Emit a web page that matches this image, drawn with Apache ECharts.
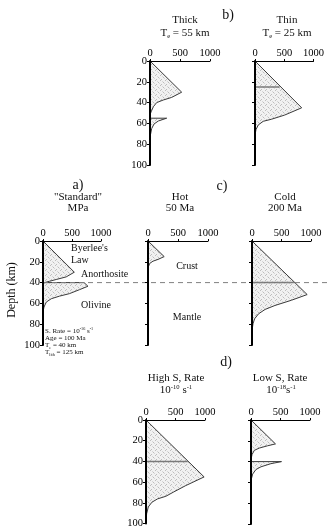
<!DOCTYPE html>
<html>
<head>
<meta charset="utf-8">
<script src="https://cdn.jsdelivr.net/npm/echarts@6/dist/echarts.min.js"></script>
<style>
  html, body { margin: 0; padding: 0; background: #fff; }
  #chart { width: 327px; height: 529px; }
</style>
</head>
<body>
<div id="chart"></div>
<script>
// axes: stress (MPa) on top, depth (km) downwards
var stressTicks = [0, 500, 1000]
var depthTicks = [0, 20, 40, 60, 80, 100]
var mohoDepth = 40

// strength envelopes, [stress MPa, depth km]
// b) thick, Te = 55 km
var thickCrust = [[0, 0], [528, 30], [361, 35], [222, 37.5], [111, 40], [56, 44], [17, 49], [0, 52]]
var thickMantle = [[0, 55], [278, 55], [139, 57.7], [67, 60.6], [28, 65], [11, 70], [0, 73]]
// b) thin, Te = 25 km
var thinProfile = [[0, 0], [798, 45], [506, 52], [281, 56], [140, 58], [56, 61.5], [17, 66], [0, 71]]
var thinMoho = [[0, 25], [421, 25]]
// a) standard
var stdCrust = [[0, 0], [540, 30], [400, 34.5], [229, 37], [114, 38.7], [29, 40], [0, 40]]
var stdMantle = [[0, 40], [708, 40], [775, 43.5], [629, 46.8], [457, 50.6], [286, 53], [143, 55.5], [57, 58.7], [17, 63.5], [0, 68]]
// c) hot 50 Ma
var hotCrust = [[0, 0], [270, 15], [167, 17.7], [83, 19.4], [28, 21.6], [5, 25], [0, 28]]
// c) cold 200 Ma
var coldProfile = [[0, 0], [935, 51.5], [667, 57], [389, 62], [222, 65.8], [111, 70], [44, 74.8], [17, 79.6], [0, 86]]
var coldMoho = [[0, 40], [710, 40]]
// d) high strain rate
var highProfile = [[0, 0], [985, 55], [669, 63.5], [461, 69.8], [337, 73.7], [197, 76.2], [101, 79.4], [39, 84], [11, 90.5], [0, 97]]
var highMoho = [[0, 40], [708, 40]]
// d) low strain rate
var lowCrust = [[0, 0], [415, 23], [281, 24.8], [140, 27], [56, 29.2], [17, 33.3], [0, 38]]
var lowMantle = [[0, 40], [517, 40], [337, 42], [169, 45], [84, 47.6], [28, 52], [5, 57], [0, 60]]

// panel layout
var panels = [
  { left: 150, top: 61, width: 60, height: 104, labels: true, fills: [thickCrust, thickMantle], moho: null },
  { left: 255, top: 61, width: 59, height: 104, labels: false, fills: [thinProfile], moho: thinMoho },
  { left: 43, top: 241, width: 58, height: 104, labels: true, fills: [stdCrust, stdMantle], moho: null },
  { left: 148, top: 241, width: 60, height: 104, labels: false, fills: [hotCrust], moho: null },
  { left: 252, top: 241, width: 59, height: 104, labels: false, fills: [coldProfile], moho: coldMoho },
  { left: 146, top: 420, width: 59, height: 104, labels: true, fills: [highProfile], moho: highMoho },
  { left: 251, top: 420, width: 59, height: 104, labels: false, fills: [lowCrust, lowMantle], moho: null }
]

// fine stipple pattern for the shaded areas
var pat = document.createElement('canvas')
pat.width = 5
pat.height = 5
var pctx = pat.getContext('2d')
pctx.fillStyle = '#f1f1f1'
pctx.fillRect(0, 0, 5, 5)
pctx.fillStyle = '#bdbdbd'
pctx.fillRect(0, 0, 1, 1)
pctx.fillRect(3, 2, 1, 1)
pctx.fillRect(1, 4, 1, 1)
pctx.fillStyle = '#d6d6d6'
pctx.fillRect(2, 1, 1, 1)
pctx.fillRect(4, 3, 1, 1)
var stipple = { image: pat, repeat: 'repeat' }

var serif = 'Liberation Serif'
var grids = []
var xAxes = []
var yAxes = []
var series = []

function areaSeries (gi, pts) {
  return {
    type: 'custom',
    xAxisIndex: gi,
    yAxisIndex: gi,
    data: pts,
    silent: true,
    z: 1,
    renderItem: function (params, api) {
      if (params.dataIndex !== 0) return
      var points = pts.map(function (p) { return api.coord(p) })
      points.push(api.coord([0, pts[pts.length - 1][1]]))
      return { type: 'polygon', shape: { points: points }, style: { fill: stipple } }
    }
  }
}

function lineSeries (gi, pts, color, width) {
  return {
    type: 'line',
    xAxisIndex: gi,
    yAxisIndex: gi,
    data: pts,
    symbol: 'none',
    silent: true,
    z: 3,
    lineStyle: { color: color, width: width }
  }
}

panels.forEach(function (p, i) {
  grids.push({ left: p.left, top: p.top, width: p.width, height: p.height })
  xAxes.push({
    type: 'value',
    gridIndex: i,
    position: 'top',
    min: stressTicks[0],
    max: stressTicks[stressTicks.length - 1],
    interval: stressTicks[1] - stressTicks[0],
    z: 5,
    axisLine: { show: true, onZero: false, lineStyle: { color: '#000', width: 1 } },
    axisTick: { show: true, length: 2, lineStyle: { color: '#000' } },
    axisLabel: { color: '#000', fontFamily: serif, fontSize: 10.5, margin: 2, formatter: function (v) { return String(v) } },
    splitLine: { show: false }
  })
  yAxes.push({
    type: 'value',
    gridIndex: i,
    inverse: true,
    min: depthTicks[0],
    max: depthTicks[depthTicks.length - 1],
    interval: depthTicks[1] - depthTicks[0],
    z: 5,
    axisLine: { show: true, onZero: false, lineStyle: { color: '#000', width: 2 } },
    axisTick: { show: true, length: 3, lineStyle: { color: '#000' } },
    axisLabel: { show: p.labels, color: '#000', fontFamily: serif, fontSize: 10.5, margin: 3 },
    splitLine: { show: false }
  })
  p.fills.forEach(function (pts) {
    series.push(areaSeries(i, pts))
    series.push(lineSeries(i, pts, '#3a3a3a', 1))
  })
  if (p.moho) series.push(lineSeries(i, p.moho, '#7a7a7a', 1.5))
})

// hidden grid for the dashed Moho line across panels a and c
var dashIdx = panels.length
grids.push({ left: 43, top: 241, width: 284, height: 104 })
xAxes.push({ type: 'value', gridIndex: dashIdx, min: 0, max: 1, show: false })
yAxes.push({ type: 'value', gridIndex: dashIdx, inverse: true, min: depthTicks[0], max: depthTicks[depthTicks.length - 1], show: false })
series.push({
  type: 'line',
  xAxisIndex: dashIdx,
  yAxisIndex: dashIdx,
  data: [[0, mohoDepth], [1, mohoDepth]],
  symbol: 'none',
  silent: true,
  z: 4,
  lineStyle: { color: '#808080', width: 1, type: [5, 4] }
})

function txt (x, y, text, size, align, extra) {
  var el = {
    type: 'text',
    x: x,
    y: y,
    z: 10,
    style: {
      text: text,
      fontFamily: serif,
      fontSize: size,
      fill: '#111',
      align: align || 'center',
      verticalAlign: 'middle',
      lineHeight: size + 2,
      rich: {
        sub: { fontSize: size * 0.6, fontFamily: serif, verticalAlign: 'bottom', lineHeight: size * 0.7, fill: '#111' },
        sup: { fontSize: size * 0.6, fontFamily: serif, verticalAlign: 'top', lineHeight: size * 0.7, fill: '#111' },
        base: { fontSize: size, fontFamily: serif, lineHeight: size + 2, fill: '#111' }
      }
    }
  }
  if (extra) Object.assign(el, extra)
  return el
}

var graphics = [
  txt(228, 15, 'b)', 14),
  txt(185, 20, 'Thick', 11),
  txt(185, 33, '{base|T}{sub|e}{base| = 55 km}', 11),
  txt(287, 20, 'Thin', 11),
  txt(287, 33, '{base|T}{sub|e}{base| = 25 km}', 11),
  txt(78, 185, 'a)', 14),
  txt(78, 197, '"Standard"', 11),
  txt(78, 208, 'MPa', 11),
  txt(222, 186, 'c)', 14),
  txt(180, 197, 'Hot', 11),
  txt(180, 208, '50 Ma', 11),
  txt(285, 197, 'Cold', 11),
  txt(285, 208, '200 Ma', 11),
  txt(226, 362, 'd)', 14),
  txt(176, 378, 'High S, Rate', 11),
  txt(176, 390, '{base|10}{sup|-10}{base| s}{sup|-1}', 11),
  txt(280, 378, 'Low S, Rate', 11),
  txt(281, 390, '{base|10}{sup|-18}{base|s}{sup|-1}', 11),
  txt(71, 248, 'Byerlee\'s', 10, 'left'),
  txt(71, 260, 'Law', 10, 'left'),
  txt(81, 274, 'Anorthosite', 10, 'left'),
  txt(81, 305, 'Olivine', 10, 'left'),
  txt(187, 266, 'Crust', 10),
  txt(187, 317, 'Mantle', 10),
  txt(45, 331, '{base|S. Rate = 10}{sup|-16}{base| s}{sup|-1}', 7, 'left'),
  txt(45, 338, 'Age = 100 Ma', 7, 'left'),
  txt(45, 345, '{base|T}{sub|e}{base| = 40 km}', 7, 'left'),
  txt(45, 352, '{base|T}{sub|lith}{base| = 125 km}', 7, 'left'),
  txt(12, 290, 'Depth (km)', 12, 'center', { rotation: Math.PI / 2 })
]

var myChart = echarts.init(document.getElementById('chart'))
myChart.setOption({
  animation: false,
  backgroundColor: '#fff',
  grid: grids,
  xAxis: xAxes,
  yAxis: yAxes,
  series: series,
  graphic: graphics
})
</script>
</body>
</html>
